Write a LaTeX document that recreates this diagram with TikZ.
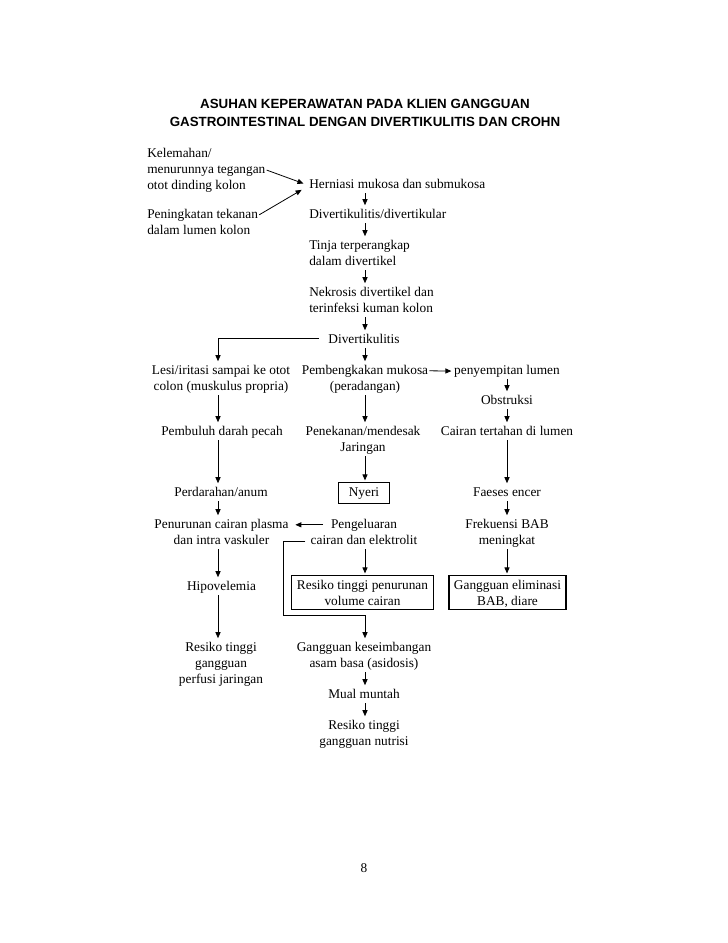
\documentclass[tikz,border=0pt]{standalone}
\usepackage{fontspec}
\setmainfont{Liberation Serif}
\newfontfamily\titlefont{Liberation Sans}
\usetikzlibrary{arrows.meta,calc}
\newcommand{\bxtop}{\rule{0pt}{9.5pt}}
\newcommand{\bxbot}{\rule[-2.5pt]{0pt}{2.5pt}}
\tikzset{
  txt/.style={font=\fontsize{10}{12}\selectfont, inner sep=0pt, align=center},
  txtl/.style={txt, align=left, anchor=north west},
  bx/.style={txt, draw, line width=0.8pt, inner xsep=3.75pt, inner ysep=0.75pt},
  arr/.style={-{Triangle[length=4.5pt,width=3.8pt]}, line width=0.6pt, shorten >=1.2pt},
}
\begin{document}
\begin{tikzpicture}[x=0.75pt,y=-0.75pt]
\useasboundingbox (0,0) rectangle (728,943);
\coordinate (colL) at (218,0);
\coordinate (colC) at (365,0);
\coordinate (colR) at (507,0);
\coordinate (bend) at (283,615);

% title
\node[font=\titlefont\bfseries\fontsize{10}{13.5}\selectfont, align=center, inner sep=0pt, anchor=north]
  (title) at (365,95.4) {\strut ASUHAN KEPERAWATAN PADA KLIEN GANGGUAN\\GASTROINTESTINAL DENGAN DIVERTIKULITIS DAN CROHN\strut};

% top part
\node[txtl] (kel) at (147,145.8) {\strut Kelemahan/\\menurunnya tegangan\\otot dinding kolon\strut};
\node[txtl] (pen) at (147,206.8) {\strut Peningkatan tekanan\\dalam lumen kolon\strut};
\node[txtl] (hern) at (309,176.8) {\strut Herniasi mukosa dan submukosa};
\node[txtl] (divt) at (309,206.8) {\strut Divertikulitis/divertikular};
\node[txtl] (tinja) at (309,237.8) {\strut Tinja terperangkap\\dalam divertikel\strut};
\node[txtl] (nekr) at (309,284.8) {\strut Nekrosis divertikel dan\\terinfeksi kuman kolon\strut};
\node[txt, anchor=north] (divk) at (364,331.8) {\strut Divertikulitis};

% rows
\node[txt, anchor=north] (lesi) at (221,362.8) {\strut Lesi/iritasi sampai ke otot\\colon (muskulus propria)\strut};
\node[txt, anchor=north] (pemb) at (365,362.8) {\strut Pembengkakan mukosa\\(peradangan)\strut};
\node[txt, anchor=north] (peny) at (507,362.8) {\strut penyempitan lumen};
\node[txt, anchor=north] (obs) at (507,392.8) {\strut Obstruksi};

\node[txt, anchor=north] (pemd) at (222,423.8) {\strut Pembuluh darah pecah};
\node[txt, anchor=north] (pnk) at (363,423.8) {\strut Penekanan/mendesak\\Jaringan\strut};
\node[txt, anchor=north] (cair) at (507,423.8) {\strut Cairan tertahan di lumen};

\node[txt, anchor=north] (perd) at (221,484.8) {\strut Perdarahan/anum};
\node[bx, anchor=north, inner xsep=7.7pt, inner ysep=1.9pt] (nyeri) at (364,482) {\strut Nyeri};
\node[txt, anchor=north] (faes) at (507,484.8) {\strut Faeses encer};

\node[txt, anchor=north] (pnr) at (221.5,516.8) {\strut Penurunan cairan plasma\\dan intra vaskuler\strut};
\node[txt, anchor=north] (peng) at (364,516.8) {\strut Pengeluaran\\cairan dan elektrolit\strut};
\node[txt, anchor=north] (frek) at (507,516.8) {\strut Frekuensi BAB\\meningkat\strut};

\node[txt, anchor=north] (hipo) at (221.5,578.8) {\strut Hipovelemia};
\node[bx, anchor=north] (rvol) at (362.5,575) {\bxtop Resiko tinggi penurunan\\volume cairan\bxbot};
\node[bx, anchor=north] (gel) at (507.5,575) {\bxtop Gangguan eliminasi\\BAB, diare\bxbot};

\node[txt, anchor=north] (rper) at (221,639.8) {\strut Resiko tinggi\\gangguan\\perfusi jaringan\strut};
\node[txt, anchor=north] (gkes) at (364,639.8) {\strut Gangguan keseimbangan\\asam basa (asidosis)\strut};
\node[txt, anchor=north] (mual) at (364,686.8) {\strut Mual muntah};
\node[txt, anchor=north] (rnut) at (364,717.8) {\strut Resiko tinggi\\gangguan nutrisi\strut};

\node[txt, anchor=north] (page) at (364,860.8) {\strut 8};

% connectors - top
\draw[arr] ($(kel.east)+(1,0)$) -- ($(hern.west)+(-4,-1)$);
\draw[arr] ($(pen.north east)+(1,8)$) -- ($(hern.west)+(-6,4)$);
\draw[arr] (hern.south -| colC) -- (divt.north -| colC);
\draw[arr] (divt.south -| colC) -- (tinja.north -| colC);
\draw[arr] (tinja.south -| colC) -- (nekr.north -| colC);
\draw[arr] (nekr.south -| colC) -- (divk.north -| colC);
\draw[arr] (divk.south -| colC) -- (pemb.north -| colC);
\draw[arr] ($(divk.west)+(-9,-2)$) -| (lesi.north -| colL);

% left column
\draw[arr] (lesi.south -| colL) -- (pemd.north -| colL);
\draw[arr] (pemd.south -| colL) -- (perd.north -| colL);
\draw[arr] (perd.south -| colL) -- (pnr.north -| colL);
\draw[arr] (pnr.south -| colL) -- (hipo.north -| colL);
\draw[arr] (hipo.south -| colL) -- (rper.north -| colL);

% centre column
\draw[arr] (pemb.south -| colC) -- (pnk.north -| colC);
\draw[arr] (pnk.south -| colC) -- (nyeri.north -| colC);
\draw[arr] (peng.south -| colC) -- (rvol.north -| colC);
\draw[arr] ($(peng.south west)+(-5,-8)$) -| (bend) -| (gkes.north -| colC);
\draw[arr] (gkes.south -| colC) -- (mual.north -| colC);
\draw[arr] (mual.south -| colC) -- (rnut.north -| colC);

% right column
\draw[arr] (peny.south -| colR) -- (obs.north -| colR);
\draw[arr] (obs.south -| colR) -- (cair.north -| colR);
\draw[arr] (cair.south -| colR) -- (faes.north -| colR);
\draw[arr] (faes.south -| colR) -- (frek.north -| colR);
\draw[arr] (frek.south -| colR) -- (gel.north -| colR);

% horizontal
\draw[arr] ($(pemb.north east)+(1,8)$) -- ($(peny.west)+(-1,0)$);
\draw[arr] ($(peng.north)+(-41,8)$) -- ($(pnr.north east)+(5,8)$);
\end{tikzpicture}
\end{document}
